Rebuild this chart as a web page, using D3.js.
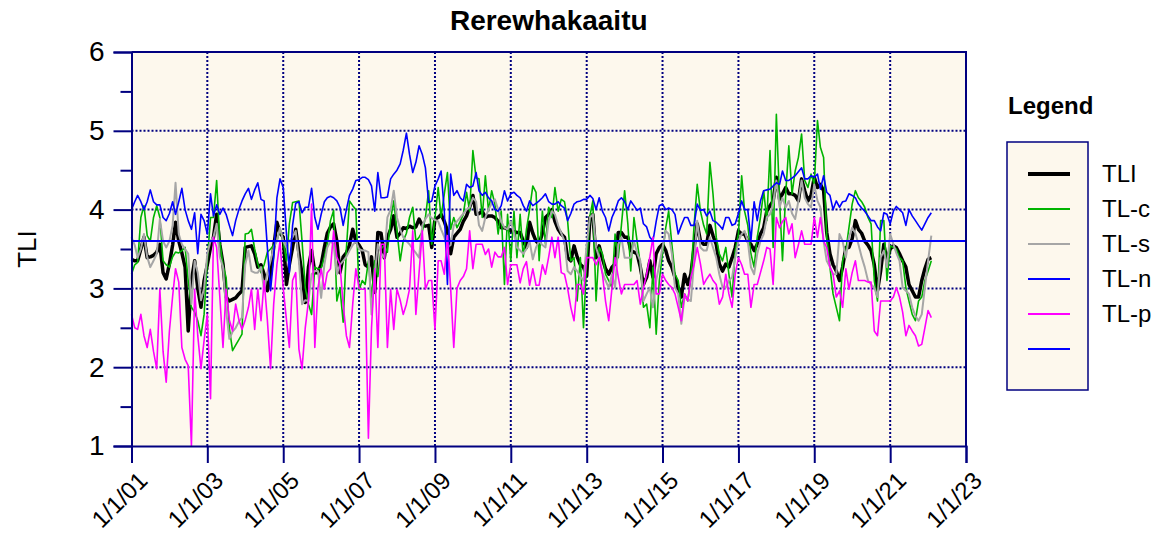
<!DOCTYPE html>
<html>
<head>
<meta charset="utf-8">
<script src="https://cdn.jsdelivr.net/npm/d3@7"></script>
<style>
    body { margin: 0; background: #ffffff; }
    text { font-family: Arial, "Liberation Sans", sans-serif; }
</style>
</head>
<body>
<div id="chart"></div>
<script>
// Rerewhakaaitu TLI record, one value per month from Jan 2001 to Feb 2022

var startMonth = new Date(2001, 0, 1);
var endMonth = new Date(2022, 2, 1);   // exclusive

var tli = [
    3.37, 3.35, 3.35, 3.5, 3.65, 3.39, 3.4, 3.42, 3.46, 3.56, 3.2, 3.12,
    3.31, 3.55, 3.84, 3.6, 3.45, 3.27, 2.46, 3.1, 3.35, 3.0, 2.76, 3.1,
    3.3, 3.52, 3.65, 3.94, 3.56, 3.31, 2.89, 2.84, 2.86, 2.88, 2.93, 2.97,
    3.52, 3.53, 3.54, 3.44, 3.27, 3.3, 3.18, 2.97, 3.18, 3.52, 3.84, 3.7,
    3.65, 3.05, 3.3, 3.52, 3.75, 3.45, 3.18, 2.82, 3.27, 3.48, 3.2, 3.2,
    3.3, 3.52, 3.7, 3.78, 3.82, 3.6, 3.2, 3.4, 3.45, 3.55, 3.75, 3.6,
    3.55, 3.48, 3.3, 3.27, 3.4, 2.95, 3.71, 3.7, 3.39, 3.65, 3.75, 3.92,
    3.65, 3.7, 3.77, 3.76, 3.79, 3.77, 3.78, 3.88, 3.8, 3.79, 3.8, 3.52,
    3.88, 3.9, 3.94, 3.85, 3.73, 3.44, 3.65, 3.7, 3.75, 3.85, 3.92, 4.03,
    4.18, 3.94, 3.95, 3.98, 3.9, 3.92, 3.92, 3.9, 3.85, 3.77, 3.77, 3.75,
    3.73, 3.72, 3.71, 3.71, 3.6, 3.52, 3.84, 3.7, 3.6, 3.56, 3.7, 3.9,
    3.94, 4.0, 3.85, 3.75, 3.69, 3.65, 3.39, 3.35, 3.54, 3.4, 3.3, 3.27,
    3.16, 3.9, 3.94, 3.39, 3.54, 3.38, 3.25, 3.18, 3.27, 3.31, 3.71, 3.71,
    3.65, 3.65, 3.48, 3.46, 3.44, 3.27, 3.05, 3.14, 3.35, 3.14, 3.44, 3.52,
    3.56, 3.48, 3.35, 3.27, 3.14, 3.01, 2.89, 3.18, 3.05, 3.18, 3.52, 3.82,
    3.6, 3.56, 3.56, 3.8, 3.67, 3.56, 3.31, 3.22, 3.31, 3.27, 3.39, 3.52,
    3.73, 3.69, 3.69, 3.6, 3.56, 3.48, 3.56, 3.69, 3.77, 3.98, 4.05, 4.11,
    4.41, 4.13, 4.2, 4.28, 4.2, 4.2, 4.18, 4.11, 4.39, 4.24, 4.11, 4.18,
    4.41, 4.28, 4.32, 4.24, 3.71, 3.44, 3.3, 3.22, 3.1, 3.27, 3.52, 3.52,
    3.63, 3.86, 3.75, 3.7, 3.6, 3.55, 3.48, 3.3, 2.97, 3.22, 3.56, 3.35,
    3.5, 3.54, 3.52, 3.44, 3.35, 3.27, 3.05, 2.97, 2.89, 2.89, 3.1, 3.25,
    3.37, 3.39
];

var tlc = [
    3.18, 3.3, 3.33, 3.9, 4.05, 3.67, 3.6, 3.9, 4.05, 3.9, 3.35, 3.3,
    3.27, 3.4, 3.46, 3.45, 3.48, 3.52, 3.1, 2.76, 2.7, 2.59, 2.4, 2.67,
    3.35, 3.9, 3.9, 4.37, 3.6, 3.29, 3.14, 2.5, 2.21, 2.28, 2.35, 2.42,
    3.69, 3.7, 3.75, 3.5, 3.31, 3.2, 3.3, 3.46, 3.5, 3.55, 3.6, 3.75,
    3.6, 3.35, 3.82, 4.09, 4.1, 4.11, 3.6, 3.01, 2.8, 2.67, 3.27, 3.25,
    3.25, 3.4, 3.56, 3.86, 3.99, 2.84, 3.01, 2.57, 3.5, 4.11, 4.05, 4.0,
    2.98, 3.1, 3.05, 3.35, 2.88, 3.35, 3.15, 3.5, 3.55, 3.46, 3.88, 4.11,
    3.73, 3.35, 3.6, 3.7, 3.9, 4.03, 3.6, 3.65, 3.72, 3.9, 4.24, 3.56,
    3.9, 4.28, 3.9, 4.2, 4.47, 3.75, 3.9, 3.77, 3.85, 3.94, 4.22, 3.98,
    4.75, 4.4, 4.39, 3.9, 4.43, 3.98, 4.24, 4.07, 3.69, 3.98, 3.05, 3.94,
    3.35, 3.98, 3.39, 3.94, 3.4, 3.75, 4.0, 4.3, 4.22, 3.35, 3.98, 3.56,
    4.03, 3.9, 4.28, 3.98, 4.13, 4.1, 3.86, 3.35, 3.39, 2.84, 3.39, 2.5,
    3.35, 3.92, 4.11, 2.84, 3.52, 3.44, 3.18, 3.1, 3.01, 3.69, 3.39, 3.8,
    4.24, 3.82, 3.22, 3.9, 3.6, 3.31, 2.76, 2.8, 2.5, 3.27, 2.42, 3.1,
    3.44, 3.77, 3.98, 3.56, 3.18, 3.1, 2.76, 2.93, 2.84, 3.14, 3.8, 4.32,
    3.98, 3.8, 3.69, 4.6, 4.2, 3.65, 3.44, 3.35, 3.52, 3.18, 2.89, 3.48,
    3.69, 4.43, 3.98, 3.8, 3.44, 3.27, 3.65, 3.9, 4.24, 3.86, 4.75, 3.52,
    5.21, 4.11, 3.35, 4.2, 4.81, 4.2, 4.49, 4.66, 4.96, 4.37, 4.28, 4.45,
    4.32, 5.13, 4.79, 4.66, 3.65, 3.27, 2.93, 2.76, 2.59, 3.35, 3.48, 3.77,
    4.07, 4.24, 4.15, 4.1, 4.03, 3.9, 3.82, 3.1, 2.84, 3.86, 3.86, 3.1,
    3.54, 3.52, 3.5, 3.39, 3.35, 3.01, 2.84, 2.67, 2.59, 2.84, 2.89, 3.1,
    3.22, 3.35
];

var tls = [
    3.65, 3.55, 3.39, 3.5, 3.69, 3.4, 3.27, 3.35, 3.44, 3.88, 3.6, 3.52,
    3.6, 3.8, 4.34, 3.69, 3.56, 3.5, 3.44, 2.8, 3.35, 3.2, 2.85, 3.0,
    3.44, 3.6, 3.65, 3.82, 3.4, 3.27, 2.72, 2.36, 2.45, 2.5, 2.58, 2.63,
    3.3, 3.48, 3.22, 3.2, 3.2, 3.27, 2.97, 3.2, 3.35, 3.52, 3.6, 3.77,
    3.6, 3.52, 3.6, 3.65, 3.73, 3.35, 2.8, 2.85, 2.84, 3.18, 3.22, 3.22,
    2.88, 3.3, 3.52, 3.6, 3.56, 3.18, 3.3, 3.35, 3.4, 3.48, 3.55, 3.6,
    3.5, 3.48, 3.48, 3.46, 2.67, 3.18, 3.56, 3.45, 3.39, 3.9, 4.0, 4.24,
    3.9, 3.75, 3.65, 3.6, 3.56, 3.5, 3.45, 3.39, 3.8, 3.88, 3.94, 3.89,
    3.87, 3.85, 3.75, 3.65, 3.52, 3.55, 3.8, 3.85, 3.9, 3.95, 4.0, 4.03,
    4.15, 4.1, 3.8, 3.73, 3.9, 4.0, 4.08, 4.13, 4.0, 3.85, 3.77, 3.75,
    3.85, 3.7, 3.52, 3.48, 3.44, 3.5, 3.6, 3.37, 3.52, 3.6, 3.55, 3.52,
    3.86, 3.98, 3.94, 3.8, 3.7, 3.6, 3.22, 3.18, 3.27, 3.22, 3.15, 3.1,
    3.56, 3.9, 3.94, 3.52, 3.39, 3.2, 3.1, 3.01, 3.18, 3.01, 3.56, 3.65,
    3.39, 3.39, 3.39, 3.6, 3.45, 3.35, 2.84, 2.93, 3.01, 2.76, 3.1, 3.3,
    3.52, 3.73, 3.69, 3.44, 3.01, 2.93, 2.55, 2.89, 2.86, 2.84, 3.35, 3.86,
    3.52, 3.48, 3.48, 3.65, 3.52, 3.39, 3.18, 3.01, 3.01, 3.1, 3.14, 3.39,
    3.6, 3.69, 3.73, 3.6, 3.27, 3.18, 3.44, 3.6, 3.69, 3.9, 3.94, 4.07,
    4.37, 4.03, 4.15, 4.03, 4.11, 3.95, 3.88, 4.11, 4.37, 4.15, 4.07, 4.03,
    4.32, 4.11, 4.03, 3.6, 3.35, 3.27, 3.18, 3.18, 3.69, 3.6, 3.39, 3.65,
    3.77, 3.7, 3.56, 3.4, 3.27, 3.1, 3.05, 3.01, 2.89, 3.39, 3.48, 3.27,
    3.69, 3.56, 3.45, 3.35, 3.01, 2.97, 2.93, 2.76, 2.65, 2.59, 2.67, 3.01,
    3.35, 3.67
];

var tln = [
    4.0, 4.1, 4.18, 4.1, 4.0, 4.1, 4.25, 4.1, 4.06, 4.06, 3.9, 3.86,
    3.95, 4.1, 3.94, 4.1, 4.27, 4.0, 3.86, 3.75, 3.96, 3.44, 3.94, 3.86,
    3.69, 4.2, 3.92, 4.06, 3.94, 4.02, 3.94, 3.8, 3.67, 3.86, 4.0, 4.11,
    4.2, 4.27, 4.13, 4.25, 4.34, 4.13, 4.11, 3.52, 2.97, 3.39, 4.15, 4.39,
    4.28, 3.69, 3.2, 3.8, 4.08, 4.1, 3.96, 4.03, 4.03, 4.27, 3.9, 3.75,
    3.94, 4.1, 4.15, 4.17, 4.15, 4.11, 4.03, 3.8, 4.0, 4.18, 4.26, 4.37,
    4.38, 4.41, 4.41, 4.38, 4.3, 3.98, 4.47, 4.15, 4.15, 4.16, 4.39, 4.45,
    4.5, 4.58, 4.75, 4.97, 4.7, 4.47, 4.6, 4.81, 4.7, 4.53, 4.09, 4.11,
    4.3, 4.39, 4.49, 3.98, 3.05, 4.45, 4.18, 4.24, 4.15, 4.11, 4.32, 4.28,
    4.3, 4.47, 4.24, 4.18, 4.22, 4.15, 4.11, 4.0, 3.98, 4.05, 4.24, 4.11,
    4.2, 4.22, 4.18, 4.15, 4.05, 3.98, 4.11, 4.05, 4.08, 4.11, 4.15, 4.2,
    4.1, 4.07, 4.07, 4.1, 4.05, 4.02, 3.86, 3.95, 4.07, 4.1, 4.11, 4.13,
    4.13, 4.18, 4.14, 4.0, 4.15, 3.98, 3.9, 3.73, 3.9, 3.99, 4.11, 4.15,
    4.1, 4.0, 4.11, 4.05, 3.99, 4.02, 3.82, 3.78, 3.65, 3.6, 3.85, 4.05,
    4.07, 4.0, 4.02, 4.0, 3.94, 3.69, 3.8, 3.9, 3.9, 3.8, 3.8, 4.07,
    3.99, 4.0, 3.92, 3.98, 3.86, 3.84, 3.8, 3.75, 3.9, 3.9, 3.8, 3.82,
    3.95, 4.11, 4.0, 4.0, 3.6, 4.1, 3.86, 4.11, 4.24, 4.25, 4.26, 4.3,
    4.34, 4.32, 4.49, 4.37, 4.37, 4.4, 4.43, 4.48, 4.53, 4.39, 4.39, 4.43,
    4.41, 4.45, 4.26, 4.43, 4.22, 4.18, 4.0, 4.11, 4.03, 4.1, 4.11, 4.2,
    4.18, 4.15, 4.07, 4.02, 3.98, 3.92, 3.86, 3.86, 3.78, 3.73, 3.96, 3.94,
    3.82, 3.98, 4.04, 4.0, 3.96, 3.8, 4.0, 3.92, 3.86, 3.8, 3.74, 3.82,
    3.9, 3.96
];

var tlp = [
    2.67, 2.5, 2.48, 2.67, 2.4, 2.25, 2.48, 2.2, 1.98, 2.99, 2.2, 1.81,
    2.46, 2.9, 3.25, 3.08, 2.25, 2.1, 2.02, 1.0, 2.99, 2.4, 1.98, 2.34,
    2.67, 1.6, 3.65, 3.52, 2.9, 2.25, 2.99, 2.6, 2.46, 2.8, 2.6, 2.48,
    2.6, 2.76, 2.99, 2.48, 2.99, 2.59, 3.1, 2.6, 1.98, 2.8, 3.3, 3.6,
    3.0, 2.6, 2.25, 3.1, 3.2, 2.23, 1.98, 2.5, 2.84, 4.07, 2.25, 3.0,
    3.25, 2.99, 3.2, 3.25, 3.73, 3.4, 3.3, 2.8, 2.4, 2.25, 2.8, 3.25,
    3.0, 2.99, 2.99, 1.1, 2.5, 3.25, 2.25, 3.56, 3.56, 2.25, 2.99, 2.48,
    2.99, 2.85, 2.67, 2.8, 2.99, 3.73, 2.67, 3.2, 3.73, 2.99, 3.1, 3.1,
    2.48, 3.35, 3.35, 3.18, 3.67, 3.0, 2.25, 3.0, 3.1, 3.15, 3.25, 3.73,
    3.25, 3.56, 3.56, 3.56, 3.43, 3.5, 3.27, 3.46, 3.4, 3.4, 3.52, 3.05,
    3.3, 3.3, 3.3, 3.07, 3.25, 3.34, 3.04, 3.25, 3.04, 3.04, 3.3, 3.18,
    3.4, 3.65, 3.39, 3.65, 3.2, 3.18, 3.0, 2.76, 2.59, 3.05, 3.05, 2.93,
    3.39, 3.39, 3.39, 3.3, 3.39, 3.18, 2.84, 2.59, 3.0, 3.39, 3.14, 2.93,
    3.05, 3.05, 3.05, 3.05, 3.1, 2.8, 3.0, 3.18, 3.4, 3.65, 2.93, 2.93,
    3.18, 3.1, 3.05, 3.01, 2.93, 2.76, 2.59, 2.93, 2.84, 3.14, 3.3, 3.52,
    3.31, 3.05, 3.12, 3.18, 3.1, 3.05, 2.8, 2.89, 3.18, 2.93, 2.76, 3.18,
    3.39, 3.3, 3.18, 3.18, 2.76, 3.05, 3.05, 3.2, 3.35, 3.52, 3.5, 3.05,
    3.9, 3.77, 3.85, 3.9, 3.69, 3.82, 3.39, 3.55, 3.73, 3.56, 3.56, 3.56,
    3.9, 3.65, 3.9, 3.6, 3.52, 3.27, 3.18, 2.89, 2.97, 2.76, 3.25, 2.99,
    3.2, 3.35, 3.1, 3.1, 3.1, 3.08, 3.08, 2.46, 2.4, 2.84, 2.84, 2.84,
    2.84, 2.89, 3.01, 2.89, 2.7, 2.4, 2.53, 2.46, 2.4, 2.27, 2.29, 2.5,
    2.72, 2.63
];

var targetTLI = 3.6;

var seriesNames = ["TLI", "TL-c", "TL-s", "TL-n", "TL-p"];
var seriesValues = [tli, tlc, tls, tln, tlp];
var seriesColors = ["#000000", "#00b400", "#a6a6a6", "#0000ff", "#ff00ff"];
var seriesWidths = [3.5, 1.6, 2, 1.6, 1.6];

var yTicks = [1, 2, 3, 4, 5, 6];
var yMinorTicks = [1.5, 2.5, 3.5, 4.5, 5.5];
var xTickYears = [2001, 2003, 2005, 2007, 2009, 2011, 2013, 2015, 2017, 2019, 2021, 2023];

// SVG area
var svgWidth = 1158;
var svgHeight = 537;

var plot = { left: 131.5, right: 966, top: 52, bottom: 446 };

var navy = "#000080";
var cream = "#fdf8ed";

var svg = d3.select("#chart")
    .append("svg")
    .attr("width", svgWidth)
    .attr("height", svgHeight);

var months = d3.timeMonth.range(startMonth, endMonth);
var xTicks = xTickYears.map(y => new Date(y, 0, 1));

var xScale = d3.scaleTime()
    .domain([new Date(2001, 0, 1), new Date(2023, 0, 1)])
    .range([plot.left, plot.right]);

var yScale = d3.scaleLinear()
    .domain([1, 6])
    .range([plot.bottom, plot.top]);

// plot background
svg.append("rect")
    .attr("x", plot.left)
    .attr("y", plot.top)
    .attr("width", plot.right - plot.left)
    .attr("height", plot.bottom - plot.top)
    .attr("fill", cream);

// dotted grid
var grid = svg.append("g")
    .attr("stroke", navy)
    .attr("stroke-width", 2)
    .attr("stroke-dasharray", "2,2");

grid.selectAll(".hgrid")
    .data(yTicks.filter(d => d > 1 && d < 6))
    .enter()
    .append("line")
    .attr("x1", plot.left)
    .attr("x2", plot.right)
    .attr("y1", d => yScale(d))
    .attr("y2", d => yScale(d));

grid.selectAll(".vgrid")
    .data(xTicks.slice(1, -1))
    .enter()
    .append("line")
    .attr("x1", d => xScale(d))
    .attr("x2", d => xScale(d))
    .attr("y1", plot.top)
    .attr("y2", plot.bottom);

// series lines, drawn in legend order
var line = d3.line()
    .defined(d => d.v != null)
    .x(d => xScale(d.date))
    .y(d => yScale(d.v));

seriesValues.forEach(function (vals, i) {
    var pts = months.map((m, k) => ({ date: m, v: vals[k] }));
    svg.append("path")
        .datum(pts)
        .attr("fill", "none")
        .attr("stroke", seriesColors[i])
        .attr("stroke-width", seriesWidths[i])
        .attr("stroke-linejoin", "round")
        .attr("d", line);
});

// target line
svg.append("line")
    .attr("x1", plot.left)
    .attr("x2", plot.right)
    .attr("y1", yScale(targetTLI))
    .attr("y2", yScale(targetTLI))
    .attr("stroke", "#0000ff")
    .attr("stroke-width", 2);

// frame: top and right
svg.append("path")
    .attr("d", `M${plot.left},${plot.top}H${plot.right}V${plot.bottom}`)
    .attr("fill", "none")
    .attr("stroke", navy)
    .attr("stroke-width", 2);

// y axis
svg.append("g")
    .attr("transform", `translate(${plot.left},0)`)
    .call(d3.axisLeft(yScale).tickValues(yTicks).tickSize(18).tickPadding(9).tickFormat(d3.format("d")));

svg.append("g")
    .attr("transform", `translate(${plot.left},0)`)
    .call(d3.axisLeft(yScale).tickValues(yMinorTicks).tickSize(11).tickFormat(""))
    .call(g => g.select(".domain").remove());

// x axis
var xAxis = svg.append("g")
    .attr("transform", `translate(0,${plot.bottom})`)
    .call(d3.axisBottom(xScale).tickValues(xTicks).tickSize(17).tickFormat(d3.timeFormat("%-m/%-d/%y")));

svg.selectAll(".domain, .tick line")
    .attr("stroke", navy)
    .attr("stroke-width", 2);

svg.selectAll(".tick text")
    .attr("font-size", 28)
    .attr("fill", "#000")
    .attr("font-family", "Arial, 'Liberation Sans', sans-serif");

xAxis.selectAll("text")
    .attr("x", 0)
    .attr("y", 0)
    .attr("dy", 0)
    .attr("font-size", 24)
    .attr("text-anchor", "end")
    .attr("transform", "translate(17,36) rotate(-45)");

// titles
svg.append("text")
    .attr("x", (plot.left + plot.right) / 2)
    .attr("y", 30)
    .attr("text-anchor", "middle")
    .attr("font-size", 28)
    .attr("font-weight", "bold")
    .text("Rerewhakaaitu");

svg.append("text")
    .attr("transform", `translate(36, ${(plot.top + plot.bottom) / 2}) rotate(-90)`)
    .attr("text-anchor", "middle")
    .attr("font-size", 26)
    .text("TLI");

// legend
var legend = svg.append("g");

legend.append("text")
    .attr("x", 1008)
    .attr("y", 114)
    .attr("font-size", 24)
    .attr("font-weight", "bold")
    .text("Legend");

legend.append("rect")
    .attr("x", 1007)
    .attr("y", 142)
    .attr("width", 81)
    .attr("height", 248)
    .attr("fill", cream)
    .attr("stroke", navy)
    .attr("stroke-width", 1.5);

var legendItems = seriesNames.map((n, i) => ({ name: n, color: seriesColors[i], width: i === 0 ? 4 : 2 }));
legendItems.push({ name: "", color: "#0000ff", width: 2 });

var legendRows = legend.selectAll(".item")
    .data(legendItems)
    .enter()
    .append("g")
    .attr("transform", (d, i) => `translate(0, ${174 + i * 35})`);

legendRows.append("line")
    .attr("x1", 1028)
    .attr("x2", 1070)
    .attr("stroke", d => d.color)
    .attr("stroke-width", d => d.width);

legendRows.append("text")
    .attr("x", 1102)
    .attr("y", 8)
    .attr("font-size", 24)
    .text(d => d.name);
</script>
</body>
</html>
